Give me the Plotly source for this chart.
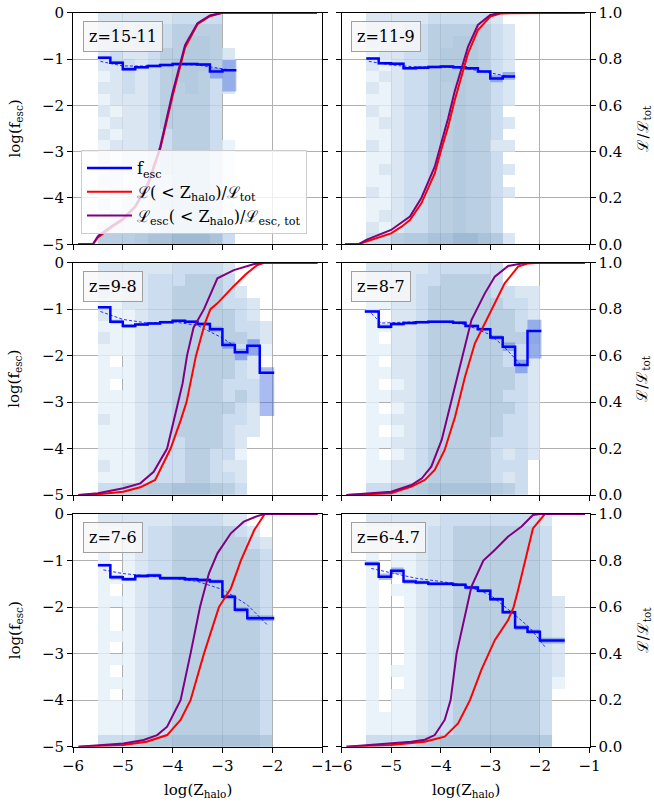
import numpy as np
import plotly.graph_objects as go

FONT = "DejaVu Serif"
W, H = 654, 804

# ---------------- data ----------------
PANEL_LABELS = ["z=15-11", "z=11-9", "z=9-8", "z=8-7", "z=7-6", "z=6-4.7"]

X_BIN_EDGES = [-6.0, -5.75, -5.5, -5.25, -5.0, -4.75, -4.5, -4.25, -4.0, -3.75, -3.5,
               -3.25, -3.0, -2.75, -2.5, -2.25, -2.0, -1.75, -1.5, -1.25, -1.0]
Y_BIN_EDGES = [0.0, -0.25, -0.5, -0.75, -1.0, -1.25, -1.5, -1.75, -2.0, -2.25, -2.5,
               -2.75, -3.0, -3.25, -3.5, -3.75, -4.0, -4.25, -4.5, -4.75, -5.0]

X_TICKS = [-6, -5, -4, -3, -2, -1]
X_TICKTEXT = ["−6", "−5", "−4", "−3", "−2", "−1"]
Y_TICKS = [0, -1, -2, -3, -4, -5]
Y_TICKTEXT = ["0", "−1", "−2", "−3", "−4", "−5"]
FRAC_TICKS = [0.0, 0.2, 0.4, 0.6, 0.8, 1.0]
FRAC_TICKTEXT = ["0.0", "0.2", "0.4", "0.6", "0.8", "1.0"]

# 2D histogram density levels (rows: log f_esc from 0 down to -5; columns: log Z from -6 to -1)
HIST_P1 = [
    "00222222333300000000", "00232333444400000000", "00222333455400000000",
    "00232234455420000000", "00223234555420000000", "00123234554320000000",
    "00223234454320000000", "00122234444300000000", "00212234444300000000",
    "00122234444300000000", "00212233444300000000", "00122233444310000000",
    "00212234444310000000", "00122234444310000000", "00221233444310000000",
    "00122233444310000000", "00212234444310000000", "00122233444310000000",
    "00222234444310000000", "00444566777630000000"]
HIST_P2 = [
    "00222223333320000000", "00222334444432000000", "00222334455432000000",
    "00122334555432000000", "00212334555432000000", "00122334554432000000",
    "00212334454432000000", "00112334454432000000", "00212334454430000000",
    "00122334454432000000", "00112334454430000000", "00212334454422000000",
    "00112334454430000000", "00122334454432000000", "00112334454430000000",
    "00212334454432000000", "00112334454430000000", "00122334454430000000",
    "00212334454430000000", "00334556677652000000"]
HIST_P3 = [
    "00222222333320000000", "00222233344430000000", "00212233444432000000",
    "00112233444433200000", "00211233444443200000", "00111233444443320000",
    "00211233444444320000", "00111233444443310000", "00101233444443200000",
    "00111233444443200000", "00101233444433300000", "00111233444434300000",
    "00111233444443200000", "00211233444433200000", "00111233444432200000",
    "00111233344432000000", "00111233344331000000", "00211233344322000000",
    "00111233344332000000", "00334455666543000000"]
HIST_P4 = [
    "00222223333330000000", "00222233444430000000", "00112234444433220000",
    "00112234444443320000", "00102234444444320000", "00112234444444320000",
    "00102234444444430000", "00112234444443320000", "00102234444443320000",
    "00112234444444320000", "00101234444444320000", "00112234444443320000",
    "00101234444444320000", "00112234444443320000", "00101234444443320000",
    "00112234444433320000", "00101234444432320000", "00112234444433300000",
    "00112234444432300000", "00334456666654300000"]
HIST_P5 = [
    "00222222333322000000", "00112233444443200000", "00101233444444320000",
    "00101233444444430000", "00101233444444430000", "00111233444444430000",
    "00101233444444430000", "00111233444444430000", "00101233444444430000",
    "00101233444444430000", "00111233444444430000", "00101233444444430000",
    "00111233444444430000", "00101233444444430000", "00111233444444430000",
    "00101233444444430000", "00111233444444430000", "00111233444444430000",
    "00111233444444430000", "00333455666666650000"]
HIST_P6 = [
    "00222222333333332000", "00111123344444443000", "00111123344444443000",
    "00101123344444443000", "00101123344444443000", "00100123344444443000",
    "00101123344444443000", "00100123344444443200", "00100123344444443200",
    "00100123344444443200", "00100123344444443200", "00100123344444443200",
    "00100123344444443200", "00101123344444443200", "00100123344444443100",
    "00101123344444443000", "00101123344444443000", "00111123344444443000",
    "00111123344444443000", "00333345666666665000"]

# f_esc binned median (step line), its uncertainty band, and the dashed fit
FESC_EDGES_P1 = [-5.5, -5.25, -5.0, -4.75, -4.5, -4.25, -4.0, -3.75, -3.5, -3.25, -3.0, -2.72]
FESC_P1 = [-0.97, -1.08, -1.22, -1.18, -1.15, -1.13, -1.11, -1.11, -1.12, -1.27, -1.24]
FESC_LO_P1 = [-1.0, -1.12, -1.25, -1.21, -1.18, -1.16, -1.14, -1.14, -1.15, -1.42, -1.7]
FESC_HI_P1 = [-0.94, -1.04, -1.18, -1.15, -1.12, -1.1, -1.08, -1.08, -1.09, -1.2, -1.02]
FIT_X_P1 = [-5.45, -5.0, -4.5, -4.0, -3.5, -3.0, -2.75]
FIT_Y_P1 = [-1.05, -1.15, -1.15, -1.12, -1.13, -1.2, -1.25]

FESC_EDGES_P2 = [-5.5, -5.25, -5.0, -4.75, -4.5, -4.25, -4.0, -3.75, -3.5, -3.25, -3.0, -2.75, -2.5]
FESC_P2 = [-0.99, -1.09, -1.1, -1.2, -1.19, -1.17, -1.16, -1.18, -1.2, -1.27, -1.42, -1.38]
FESC_LO_P2 = [-1.02, -1.12, -1.13, -1.23, -1.22, -1.2, -1.19, -1.21, -1.23, -1.3, -1.5, -1.45]
FESC_HI_P2 = [-0.96, -1.06, -1.07, -1.17, -1.16, -1.14, -1.13, -1.15, -1.17, -1.24, -1.35, -1.28]
FIT_X_P2 = [-5.45, -5.0, -4.5, -4.0, -3.5, -3.0, -2.6]
FIT_Y_P2 = [-1.05, -1.13, -1.17, -1.17, -1.2, -1.3, -1.38]

FESC_EDGES_P3 = [-5.5, -5.25, -5.0, -4.75, -4.5, -4.25, -4.0, -3.75, -3.5, -3.25, -3.0, -2.75, -2.5, -2.25, -1.96]
FESC_P3 = [-0.96, -1.27, -1.36, -1.33, -1.31, -1.28, -1.25, -1.27, -1.32, -1.43, -1.77, -1.93, -1.79, -2.37]
FESC_LO_P3 = [-0.99, -1.31, -1.4, -1.36, -1.34, -1.31, -1.28, -1.3, -1.36, -1.48, -1.85, -2.1, -2.0, -3.3]
FESC_HI_P3 = [-0.93, -1.23, -1.32, -1.3, -1.28, -1.25, -1.22, -1.24, -1.28, -1.38, -1.7, -1.85, -1.65, -2.25]
FIT_X_P3 = [-5.45, -5.0, -4.5, -4.0, -3.5, -3.0, -2.75]
FIT_Y_P3 = [-1.05, -1.22, -1.3, -1.27, -1.35, -1.62, -1.8]

FESC_EDGES_P4 = [-5.53, -5.25, -5.0, -4.75, -4.5, -4.25, -4.0, -3.75, -3.5, -3.25, -3.0, -2.75, -2.5, -2.25, -1.97]
FESC_P4 = [-1.05, -1.38, -1.32, -1.3, -1.28, -1.27, -1.27, -1.29, -1.36, -1.43, -1.61, -1.81, -2.2, -1.47]
FESC_LO_P4 = [-1.08, -1.42, -1.35, -1.33, -1.31, -1.3, -1.3, -1.32, -1.39, -1.46, -1.66, -1.9, -2.38, -2.06]
FESC_HI_P4 = [-1.02, -1.33, -1.29, -1.27, -1.25, -1.24, -1.24, -1.26, -1.33, -1.4, -1.56, -1.72, -2.09, -1.23]
FIT_X_P4 = [-5.4, -5.2, -4.5, -4.0, -3.5, -3.0, -2.75, -2.5, -2.38]
FIT_Y_P4 = [-1.09, -1.3, -1.27, -1.27, -1.33, -1.55, -1.78, -2.05, -2.2]

FESC_EDGES_P5 = [-5.5, -5.25, -5.0, -4.75, -4.5, -4.25, -4.0, -3.75, -3.5, -3.25, -3.0, -2.75, -2.5, -1.96]
FESC_P5 = [-1.1, -1.36, -1.4, -1.33, -1.32, -1.38, -1.38, -1.4, -1.42, -1.45, -1.78, -2.06, -2.24]
FESC_LO_P5 = [-1.13, -1.41, -1.44, -1.37, -1.36, -1.42, -1.42, -1.44, -1.46, -1.49, -1.83, -2.11, -2.3]
FESC_HI_P5 = [-1.07, -1.31, -1.36, -1.29, -1.28, -1.34, -1.34, -1.36, -1.38, -1.41, -1.73, -2.01, -2.18]
FIT_X_P5 = [-5.39, -5.0, -4.5, -4.0, -3.5, -3.0, -2.5, -2.1]
FIT_Y_P5 = [-1.2, -1.28, -1.33, -1.38, -1.45, -1.62, -1.95, -2.38]

FESC_EDGES_P6 = [-5.53, -5.25, -5.0, -4.75, -4.5, -4.25, -4.0, -3.75, -3.5, -3.25, -3.0, -2.75, -2.5, -2.25, -2.0, -1.5]
FESC_P6 = [-1.07, -1.35, -1.22, -1.45, -1.47, -1.5, -1.5, -1.52, -1.58, -1.65, -1.83, -2.11, -2.44, -2.53, -2.72]
FESC_LO_P6 = [-1.12, -1.42, -1.29, -1.5, -1.51, -1.54, -1.54, -1.56, -1.62, -1.69, -1.87, -2.15, -2.49, -2.58, -2.78]
FESC_HI_P6 = [-1.02, -1.28, -1.15, -1.4, -1.43, -1.46, -1.46, -1.48, -1.54, -1.61, -1.79, -2.07, -2.39, -2.48, -2.66]
FIT_X_P6 = [-5.4, -5.0, -4.5, -4.0, -3.5, -3.0, -2.5, -2.2, -1.9]
FIT_Y_P6 = [-1.17, -1.27, -1.38, -1.45, -1.53, -1.74, -2.17, -2.45, -2.85]

# cumulative luminosity fractions (right axis)
CUM_X_P1 = [-5.9, -5.6, -5.5, -5.25, -5.0, -4.75, -4.5, -4.25, -4.0, -3.75, -3.5, -3.25, -3.0, -1.1]
CUM_RED_P1 = [0.0, 0.0, 0.03, 0.07, 0.105, 0.16, 0.25, 0.41, 0.64, 0.85, 0.95, 0.985, 1.0, 1.0]
CUM_PUR_P1 = [0.0, 0.0, 0.035, 0.075, 0.11, 0.165, 0.26, 0.42, 0.655, 0.86, 0.955, 0.988, 1.0, 1.0]

CUM_X_P2 = [-5.93, -5.66, -5.5, -5.26, -5.0, -4.79, -4.62, -4.39, -4.12, -3.99, -3.85, -3.72,
            -3.58, -3.45, -3.25, -3.0, -2.78, -1.09]
CUM_RED_P2 = [0.0, 0.0, 0.012, 0.03, 0.047, 0.076, 0.105, 0.177, 0.306, 0.407, 0.508, 0.62,
              0.724, 0.824, 0.925, 0.983, 0.997, 1.0]
CUM_PUR_P2 = [0.0, 0.0, 0.019, 0.04, 0.062, 0.094, 0.12, 0.2, 0.335, 0.436, 0.544, 0.659,
              0.76, 0.853, 0.947, 0.99, 1.0, 1.0]

CUM_RED_X_P3 = [-5.89, -5.5, -4.99, -4.65, -4.35, -4.04, -3.84, -3.72, -3.53, -3.35, -3.24,
                -3.1, -2.77, -2.53, -2.3, -2.16, -1.09]
CUM_RED_P3 = [0.0, 0.003, 0.014, 0.033, 0.065, 0.2, 0.32, 0.4, 0.6, 0.74, 0.8,
              0.825, 0.9, 0.95, 0.99, 1.0, 1.0]
CUM_PUR_X_P3 = [-5.89, -5.5, -4.99, -4.65, -4.38, -4.11, -3.91, -3.8, -3.71, -3.58, -3.37,
                -3.1, -2.77, -2.36, -2.16, -1.09]
CUM_PUR_P3 = [0.0, 0.008, 0.029, 0.05, 0.1, 0.2, 0.38, 0.48, 0.6, 0.72, 0.8,
              0.933, 0.968, 0.994, 1.0, 1.0]

CUM_RED_X_P4 = [-5.9, -5.0, -4.59, -4.32, -4.12, -3.92, -3.71, -3.51, -3.31, -3.11, -2.91,
                -2.71, -2.44, -2.24, -2.0, -1.09]
CUM_RED_P4 = [0.0, 0.007, 0.036, 0.065, 0.108, 0.194, 0.337, 0.509, 0.653, 0.739, 0.825,
              0.911, 0.983, 0.997, 1.0, 1.0]
CUM_PUR_X_P4 = [-5.9, -5.0, -4.59, -4.38, -4.19, -3.98, -3.78, -3.58, -3.38, -3.11, -2.91,
                -2.64, -2.37, -2.17, -1.09]
CUM_PUR_P4 = [0.0, 0.014, 0.043, 0.072, 0.122, 0.237, 0.409, 0.581, 0.753, 0.868, 0.94,
              0.986, 0.997, 1.0, 1.0]

CUM_RED_X_P5 = [-5.89, -4.99, -4.52, -4.11, -3.84, -3.64, -3.37, -3.07, -2.83, -2.63, -2.36,
                -2.15, -1.09]
CUM_RED_P5 = [0.0, 0.007, 0.021, 0.05, 0.115, 0.2, 0.4, 0.6, 0.68, 0.8, 0.931, 1.0, 1.0]
CUM_PUR_X_P5 = [-5.89, -4.99, -4.58, -4.31, -4.11, -3.84, -3.64, -3.45, -3.27, -3.1, -2.83,
                -2.57, -2.3, -2.16, -1.09]
CUM_PUR_P5 = [0.0, 0.014, 0.029, 0.05, 0.086, 0.2, 0.4, 0.6, 0.745, 0.831, 0.917, 0.967,
              0.991, 1.0, 1.0]

CUM_RED_X_P6 = [-5.9, -5.0, -4.32, -3.92, -3.65, -3.41, -3.18, -3.04, -2.91, -2.64, -2.53,
                -2.44, -2.3, -2.24, -2.14, -1.9, -1.09]
CUM_RED_P6 = [0.0, 0.007, 0.021, 0.043, 0.1, 0.2, 0.33, 0.4, 0.458, 0.544, 0.6,
              0.673, 0.8, 0.845, 0.938, 1.0, 1.0]
CUM_PUR_X_P6 = [-5.9, -5.0, -4.59, -4.32, -4.12, -3.92, -3.8, -3.68, -3.48, -3.38, -3.14,
                -2.91, -2.64, -2.37, -2.14, -2.0, -1.09]
CUM_PUR_P6 = [0.0, 0.014, 0.021, 0.03, 0.05, 0.115, 0.2, 0.4, 0.6, 0.688, 0.8,
              0.845, 0.903, 0.946, 0.996, 1.0, 1.0]

PANELS = [
    dict(label=PANEL_LABELS[0], hist=HIST_P1, edges=FESC_EDGES_P1, fesc=FESC_P1, lo=FESC_LO_P1, hi=FESC_HI_P1,
         fitx=FIT_X_P1, fity=FIT_Y_P1, rx=CUM_X_P1, ry=CUM_RED_P1, px=CUM_X_P1, py=CUM_PUR_P1),
    dict(label=PANEL_LABELS[1], hist=HIST_P2, edges=FESC_EDGES_P2, fesc=FESC_P2, lo=FESC_LO_P2, hi=FESC_HI_P2,
         fitx=FIT_X_P2, fity=FIT_Y_P2, rx=CUM_X_P2, ry=CUM_RED_P2, px=CUM_X_P2, py=CUM_PUR_P2),
    dict(label=PANEL_LABELS[2], hist=HIST_P3, edges=FESC_EDGES_P3, fesc=FESC_P3, lo=FESC_LO_P3, hi=FESC_HI_P3,
         fitx=FIT_X_P3, fity=FIT_Y_P3, rx=CUM_RED_X_P3, ry=CUM_RED_P3, px=CUM_PUR_X_P3, py=CUM_PUR_P3),
    dict(label=PANEL_LABELS[3], hist=HIST_P4, edges=FESC_EDGES_P4, fesc=FESC_P4, lo=FESC_LO_P4, hi=FESC_HI_P4,
         fitx=FIT_X_P4, fity=FIT_Y_P4, rx=CUM_RED_X_P4, ry=CUM_RED_P4, px=CUM_PUR_X_P4, py=CUM_PUR_P4),
    dict(label=PANEL_LABELS[4], hist=HIST_P5, edges=FESC_EDGES_P5, fesc=FESC_P5, lo=FESC_LO_P5, hi=FESC_HI_P5,
         fitx=FIT_X_P5, fity=FIT_Y_P5, rx=CUM_RED_X_P5, ry=CUM_RED_P5, px=CUM_PUR_X_P5, py=CUM_PUR_P5),
    dict(label=PANEL_LABELS[5], hist=HIST_P6, edges=FESC_EDGES_P6, fesc=FESC_P6, lo=FESC_LO_P6, hi=FESC_HI_P6,
         fitx=FIT_X_P6, fity=FIT_Y_P6, rx=CUM_RED_X_P6, ry=CUM_RED_P6, px=CUM_PUR_X_P6, py=CUM_PUR_P6),
]

# ---------------- styling / layout ----------------
COL_PX = [(73.0, 322.0), (341.5, 589.5)]
ROW_PX = [(12.7, 244.3), (262.7, 495.0), (514.0, 746.7)]

def xdom(c):
    a, b = COL_PX[c]
    return [a / W, b / W]

def ydom(r):
    t, b = ROW_PX[r]
    return [1 - b / H, 1 - t / H]

HEAT_SCALE = [
    [0.0, "rgb(231,240,249)"], [1 / 6, "rgb(209,225,240)"], [2 / 6, "rgb(191,213,234)"],
    [3 / 6, "rgb(171,196,221)"], [4 / 6, "rgb(161,189,216)"], [5 / 6, "rgb(149,179,209)"],
    [1.0, "rgb(136,169,201)"]]

x_cent = list((np.array(X_BIN_EDGES[:-1]) + np.array(X_BIN_EDGES[1:])) / 2)
y_cent = list((np.array(Y_BIN_EDGES[:-1]) + np.array(Y_BIN_EDGES[1:])) / 2)

fig = go.Figure()
layout = dict(width=W, height=H, margin=dict(l=0, r=0, t=0, b=0, pad=0, autoexpand=False),
              paper_bgcolor="white", plot_bgcolor="white", template="none",
              font=dict(family=FONT, size=15, color="black"),
              showlegend=True)
annotations = []

axis_common = dict(showline=True, linecolor="black", linewidth=1, ticks="outside", ticklen=5,
                   tickwidth=1, tickcolor="black", zeroline=False, automargin=False,
                   tickfont=dict(family=FONT, size=15, color="black"))

for p, d in enumerate(PANELS):
    r, c = divmod(p, 2)
    xid = "x" if p == 0 else f"x{p + 1}"
    yl = "y" if p == 0 else f"y{2 * p + 1}"
    yr = f"y{2 * p + 2}"
    xkey = "xaxis" if p == 0 else f"xaxis{p + 1}"
    ylkey = "yaxis" if p == 0 else f"yaxis{2 * p + 1}"
    yrkey = f"yaxis{2 * p + 2}"

    layout[xkey] = dict(axis_common, domain=xdom(c), anchor=yl, range=[-6, -1],
                        tickvals=X_TICKS, ticktext=X_TICKTEXT, showticklabels=(r == 2),
                        showgrid=True, gridcolor="#b0b0b0", gridwidth=1, mirror=True)
    layout[ylkey] = dict(axis_common, domain=ydom(r), anchor=xid, range=[-5, 0],
                         tickvals=Y_TICKS, ticktext=Y_TICKTEXT, showticklabels=(c == 0),
                         showgrid=True, gridcolor="#b0b0b0", gridwidth=1)
    layout[yrkey] = dict(axis_common, domain=ydom(r), anchor=xid, overlaying=yl, side="right",
                         range=[0, 1], tickvals=FRAC_TICKS, ticktext=FRAC_TICKTEXT,
                         showticklabels=(c == 1), showgrid=False)

    # histogram
    z = []
    for row in d["hist"]:
        row = row.ljust(20, "0")[:20]
        z.append([None if ch == "0" else int(ch) for ch in row])
    fig.add_trace(go.Heatmap(x=x_cent, y=y_cent, z=z, zmin=1, zmax=7, colorscale=HEAT_SCALE,
                             showscale=False, opacity=0.8, hoverinfo="skip",
                             xaxis=xid, yaxis=yl, showlegend=False))

    # uncertainty band
    ex = d["edges"]
    fig.add_trace(go.Scatter(x=ex, y=d["lo"] + [d["lo"][-1]], mode="lines", line_shape="hv",
                             line=dict(width=0, color="rgba(0,0,0,0)"), xaxis=xid, yaxis=yl,
                             showlegend=False, hoverinfo="skip"))
    fig.add_trace(go.Scatter(x=ex, y=d["hi"] + [d["hi"][-1]], mode="lines", line_shape="hv",
                             line=dict(width=0, color="rgba(0,0,0,0)"), fill="tonexty",
                             fillcolor="rgba(65,105,225,0.45)", xaxis=xid, yaxis=yl,
                             showlegend=False, hoverinfo="skip"))
    # dashed fit
    fig.add_trace(go.Scatter(x=d["fitx"], y=d["fity"], mode="lines",
                             line=dict(color="rgba(0,0,255,0.8)", width=1, dash="3px,2px"),
                             xaxis=xid, yaxis=yl, showlegend=False, hoverinfo="skip"))
    # f_esc step line
    fig.add_trace(go.Scatter(x=ex, y=d["fesc"] + [d["fesc"][-1]], mode="lines", line_shape="hv",
                             line=dict(color="#0000ff", width=2.5), xaxis=xid, yaxis=yl,
                             name="f<sub>esc</sub>", showlegend=(p == 0), legendrank=1))
    # cumulative curves
    fig.add_trace(go.Scatter(x=d["rx"], y=d["ry"], mode="lines", line=dict(color="#ff0000", width=2),
                             xaxis=xid, yaxis=yr,
                             name="ℒ( < Z<sub>halo</sub>)/ℒ<sub>tot</sub>",
                             showlegend=(p == 0), legendrank=2))
    fig.add_trace(go.Scatter(x=d["px"], y=d["py"], mode="lines", line=dict(color="#800080", width=2),
                             xaxis=xid, yaxis=yr,
                             name="ℒ<sub>esc</sub>( < Z<sub>halo</sub>)/ℒ<sub>esc, tot</sub>",
                             showlegend=(p == 0), legendrank=3))

    # panel label box
    annotations.append(dict(text=d["label"], xref=f"{xid} domain", yref=f"{yl} domain",
                            x=0.04, y=0.964, xanchor="left", yanchor="top", showarrow=False,
                            font=dict(family=FONT, size=16, color="black"),
                            bgcolor="rgba(248,248,248,0.8)", bordercolor="#a0a0a0",
                            borderwidth=1, borderpad=5))

# axis titles
for r in range(3):
    t, b = ROW_PX[r]
    yc = 1 - (t + b) / 2 / H
    annotations.append(dict(text="log(f<sub>esc</sub>)", xref="paper", yref="paper",
                            x=15 / W, y=yc, textangle=-90, showarrow=False,
                            xanchor="center", yanchor="middle",
                            font=dict(family=FONT, size=15, color="black")))
    annotations.append(dict(text="ℒ/ℒ<sub>tot</sub>", xref="paper", yref="paper",
                            x=643 / W, y=yc, textangle=-90, showarrow=False,
                            xanchor="center", yanchor="middle",
                            font=dict(family=FONT, size=15, color="black")))
for c in range(2):
    a, b = COL_PX[c]
    annotations.append(dict(text="log(Z<sub>halo</sub>)", xref="paper", yref="paper",
                            x=(a + b) / 2 / W, y=1 - 790 / H, showarrow=False,
                            xanchor="center", yanchor="middle",
                            font=dict(family=FONT, size=15, color="black")))

layout["annotations"] = annotations
layout["legend"] = dict(x=81 / W, y=1 - 150 / H, xanchor="left", yanchor="top",
                        bgcolor="rgba(255,255,255,0.8)", bordercolor="#cccccc", borderwidth=1,
                        font=dict(family=FONT, size=16, color="black"), traceorder="normal",
                        tracegroupgap=0, itemwidth=45)
fig.update_layout(**layout)
fig.write_html("out.html", config={"displayModeBar": False},
               post_script="document.body.style.margin='0px';document.body.style.overflow='hidden';")
